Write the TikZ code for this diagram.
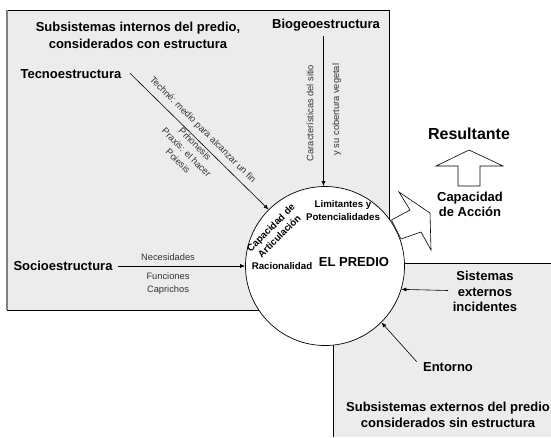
\documentclass[tikz,border=0pt]{standalone}
\usepackage{fontspec}
\setmainfont{Liberation Sans}
\usetikzlibrary{arrows.meta}
\definecolor{boxgray}{HTML}{ECECEC}
\tikzset{
 big/.style={font=\bfseries\fontsize{13}{15.5}\selectfont, align=center, inner sep=0pt},
 mid/.style={font=\bfseries\fontsize{9.7}{12.4}\selectfont, align=center, inner sep=0pt},
 small/.style={font=\fontsize{9.3}{12}\selectfont, align=center, inner sep=0pt, text=black!80},
 arr/.style={-{Latex[length=5pt,width=4pt]}, line width=0.6pt},
 outline/.style={line width=0.7pt},
}
\begin{document}
\begin{tikzpicture}[x=1pt,y=-1pt]
\useasboundingbox (0,0) rectangle (551,437);
% internal subsystems box
\fill[boxgray] (7,10) rectangle (389,310);
\draw[outline] (7,10) -- (389,10) -- (389,310) -- (7,310);
\draw[gray, line width=1.5pt] (7,10) -- (7,310);
% external subsystems box
\fill[boxgray] (333,263) rectangle (551,437);
\draw[outline] (551,263) -- (333,263) -- (333,437);
% the circle
\node[circle, draw, fill=white, minimum size=159pt, inner sep=0pt, outline] (predio) at (325,266) {};
% zigzag arrow
\draw[fill=white, line width=0.6pt] (391.5,220) -- (410,210) -- (399,192) -- (430,213) -- (431,250) -- (421,232) -- (401,239) -- cycle;
% up block arrow
\draw[fill=white, line width=0.6pt] (469,150) -- (503,166) -- (480,166) -- (480,186) -- (458,186) -- (458,166) -- (436,166) -- cycle;
% titles
\node[big, font=\bfseries\fontsize{13}{16.5}\selectfont] (sub1) at (138,35.5) {Subsistemas internos del predio,\\considerados con estructura};
\node[big] (bio) at (326,25) {Biogeoestructura};
\node[big] (tecno) at (71,74) {Tecnoestructura};
\node[big] (socio) at (63,266) {Socioestructura};
\node[big, font=\bfseries\fontsize{16}{18}\selectfont] (res) at (469,134) {Resultante};
\node[big, font=\bfseries\fontsize{13}{15}\selectfont] (cap) at (470,204) {Capacidad\\de Acción};
\node[big, font=\bfseries\fontsize{13}{15.3}\selectfont] (sist) at (485,291.5) {Sistemas\\externos\\incidentes};
\node[big] (ent) at (448,367) {Entorno};
\node[big, font=\bfseries\fontsize{13}{16.6}\selectfont] (sub2) at (448,415) {Subsistemas externos del predio\\considerados sin estructura};
% inside circle
\node[mid] (lim) at (343,210.5) {Limitantes y\\Potencialidades};
\node[big] (el) at (354,262) {EL PREDIO};
\node[mid] (rac) at (282,266) {Racionalidad};
\node[mid, font=\bfseries\fontsize{9.7}{12}\selectfont, rotate=45] (art) at (275,232) {Capacidad de\\Articulación};
% small labels
\node[small] (nec) at (168,257) {Necesidades};
\node[small, font=\fontsize{9.3}{12.7}\selectfont] (fun) at (168,283.5) {Funciones\\Caprichos};
\node[small, rotate=-45] (techne) at (202.5,130) {Techné: medio para alcanzar un fin};
\node[small, rotate=-45] (phro) at (186.6,152.5) {Prhonesis\\Praxis: el hacer\\Poiesis};
\node[small, rotate=90] (car) at (310,113) {Características del sitio};
\node[small, rotate=90] (cob) at (336.7,109.5) {y su cobertura vegetal};
% arrows
\coordinate (tstart) at (130,73.3);
\coordinate (bstart) at (323.5,36);
\coordinate (sstart) at (118,266);
\coordinate (istart) at (448,290.5);
\coordinate (estart) at (416.7,361.7);
\draw[arr] (tstart) -- (predio.135);
\draw[arr] (bstart) -- (bstart |- predio.north);
\draw[arr] (sstart) -- (predio.west);
\draw[arr] (istart) -- (predio.-17.5);
\draw[arr] (estart) -- (predio.-45);
\end{tikzpicture}
\end{document}
